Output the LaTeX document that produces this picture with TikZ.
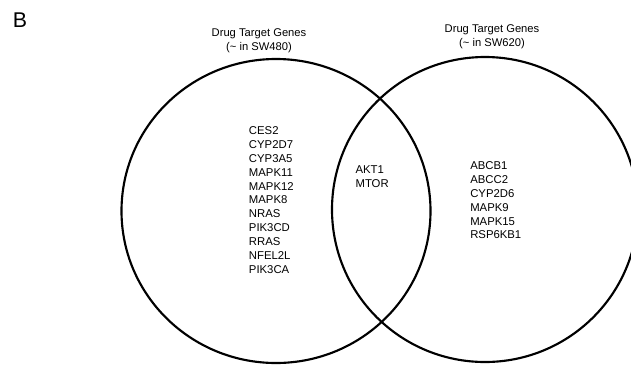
\documentclass[tikz,border=0pt]{standalone}
\usepackage{fontspec}
\setmainfont{Liberation Sans}
\usetikzlibrary{shapes}

\begin{document}
\begin{tikzpicture}[x=0.75pt, y=-0.75pt,
  venn/.style={draw, ellipse, line width = 1.6pt},
  genes/.style={anchor=north west, inner sep=0pt, align=left, font=\fontsize{8.5}{10.4}\selectfont},
  setlabel/.style={inner sep=0pt, align=center, font=\fontsize{8.4}{10.5}\selectfont}]
\useasboundingbox (0,0) rectangle (631,365);
\node at (20,20.5) [name=Panel, font=\fontsize{16}{19}\selectfont]{B};
\node at (276,211) [venn, name=SWleft, minimum width = 231.75pt, minimum height = 228pt]{};
\node at (485,209.5) [venn, name=SWright, minimum width = 229.5pt, minimum height = 228.75pt]{};
\node at (259,41) [setlabel, name=LabelLeft]{Drug Target Genes\\(\textasciitilde{} in SW480)};
\node at (492,37) [setlabel, name=LabelRight]{Drug Target Genes\\(\textasciitilde{} in SW620)};
\node at (248.7,126.4) [genes, name=GenesLeft]{CES2\\CYP2D7\\CYP3A5\\MAPK11\\MAPK12\\MAPK8\\NRAS\\PIK3CD\\RRAS\\NFEL2L\\PIK3CA};
\node at (355.3,165.9) [genes, name=GenesBoth]{AKT1\\MTOR};
\node at (470,161.4) [genes, name=GenesRight]{ABCB1\\ABCC2\\CYP2D6\\MAPK9\\MAPK15\\RSP6KB1};
\end{tikzpicture}
\end{document}
